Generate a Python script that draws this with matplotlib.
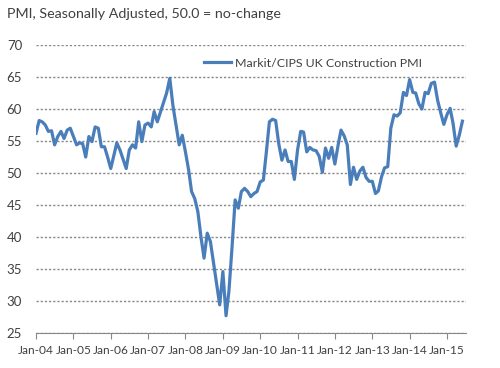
import pandas as pd
import matplotlib
matplotlib.use("Agg")
import matplotlib.pyplot as plt
import matplotlib.dates as mdates

# Monthly Markit/CIPS UK Construction PMI, Jan 2004 - Jun 2015
pmi_2004 = [56.2, 58.2, 58.0, 57.5, 56.5, 56.6, 54.4, 55.7, 56.5, 55.4, 56.7, 57.0]
pmi_2005 = [55.7, 54.4, 54.7, 54.6, 52.5, 55.7, 54.9, 57.2, 57.0, 54.1, 54.1, 52.5]
pmi_2006 = [50.7, 52.8, 54.7, 53.6, 52.2, 50.7, 53.6, 54.4, 53.9, 58.0, 54.9, 57.5]
pmi_2007 = [57.8, 57.2, 59.6, 58.0, 59.5, 61.1, 62.5, 64.8, 60.5, 57.5, 54.4, 55.9]
pmi_2008 = [53.3, 50.5, 47.1, 46.0, 44.0, 40.0, 36.7, 40.6, 39.3, 36.0, 32.5, 29.4]
pmi_2009 = [34.6, 27.7, 31.5, 38.5, 45.8, 44.5, 47.1, 47.6, 47.1, 46.3, 46.8, 47.1]
pmi_2010 = [48.6, 48.9, 53.1, 58.0, 58.4, 58.2, 54.6, 52.0, 53.6, 51.8, 51.8, 49.0]
pmi_2011 = [53.6, 56.5, 56.4, 53.3, 54.0, 53.6, 53.5, 52.6, 50.1, 53.9, 52.3, 54.0]
pmi_2012 = [51.4, 54.3, 56.7, 55.8, 54.4, 48.2, 50.9, 49.0, 50.3, 50.9, 49.3, 48.7]
pmi_2013 = [48.7, 46.8, 47.2, 49.4, 50.8, 51.0, 57.0, 59.1, 58.9, 59.4, 62.6, 62.1]
pmi_2014 = [64.6, 62.6, 62.5, 60.8, 60.0, 62.6, 62.4, 64.0, 64.2, 61.4, 59.4, 57.6]
pmi_2015 = [59.1, 60.1, 57.8, 54.2, 55.9, 58.1]

values = (pmi_2004 + pmi_2005 + pmi_2006 + pmi_2007 + pmi_2008 + pmi_2009
          + pmi_2010 + pmi_2011 + pmi_2012 + pmi_2013 + pmi_2014 + pmi_2015)
months = pd.date_range("2004-01-01", periods=len(values), freq="MS")

plt.rcParams["font.family"] = ["Lato", "DejaVu Sans"]
text_col = "#404040"
grid_col = "#888888"

fig = plt.figure(figsize=(5, 3.68), dpi=100)
ax = fig.add_axes([0.072, 0.0951, 0.86, 0.7826])

ax.plot(months, values, color="#4A7EBB", lw=2.3, solid_joinstyle="round",
        label="Markit/CIPS UK Construction PMI")

ax.set_ylim(25, 70)
ax.set_yticks(range(25, 75, 5))
ax.set_xlim(pd.Timestamp("2004-01-01"), pd.Timestamp("2015-07-06"))
ax.xaxis.set_major_locator(mdates.YearLocator())
ax.xaxis.set_major_formatter(mdates.DateFormatter("%b-%y"))

ax.grid(axis="y", color=grid_col, linestyle=(0, (1.6, 1.4)), lw=1.0)
ax.set_axisbelow(True)
for s in ["left", "right", "top"]:
    ax.spines[s].set_visible(False)
ax.spines["bottom"].set_color(grid_col)
ax.spines["bottom"].set_linewidth(0.8)
ax.tick_params(axis="y", length=0, pad=10, labelsize=9.5, labelcolor=text_col)
ax.tick_params(axis="x", length=4, width=0.8, color=grid_col, direction="out",
               pad=4.5, labelsize=8.6, labelcolor=text_col)

ax.legend(loc="center left", bbox_to_anchor=(0.391, 0.9375), frameon=False,
          borderpad=0, borderaxespad=0, handlelength=2.2, handletextpad=0.3,
          fontsize=8.9, labelcolor=text_col)

fig.text(0.014, 1 - 14 / 368, "PMI, Seasonally Adjusted, 50.0 = no-change",
         fontsize=10.3, va="center", ha="left", color=text_col)

fig.savefig("out.png", dpi=100)
